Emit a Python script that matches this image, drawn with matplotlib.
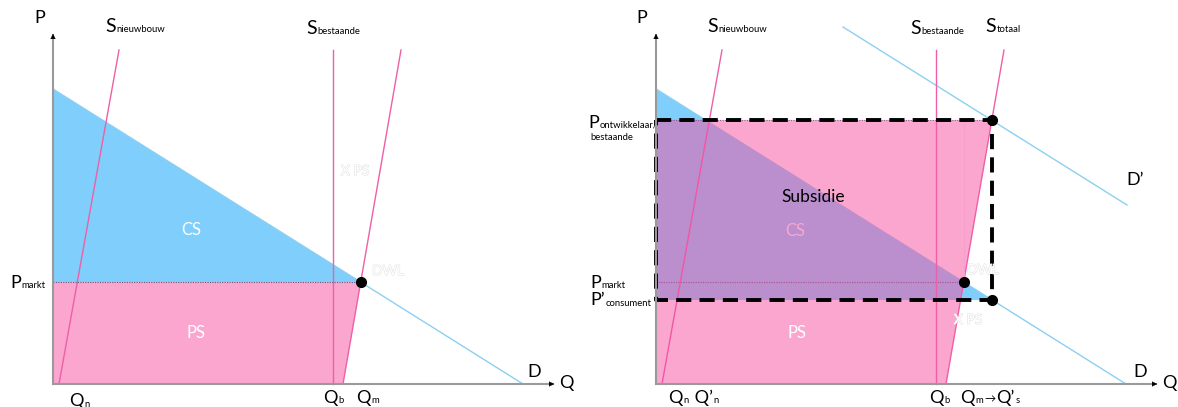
import matplotlib.pyplot as plt
import matplotlib.patheffects as pe
from matplotlib.transforms import offset_copy
import numpy as np

plt.rcParams['font.family'] = ['Lato', 'DejaVu Sans']

# curves, as (Q, P) end points
q_demand = [0.0, 47.0]
p_demand = [29.5, 0.0]
q_demand_new = [18.7, 47.1]
p_demand_new = [35.7, 17.9]
q_nieuwbouw = [0.6, 6.6]
p_nieuwbouw = [0.0, 33.4]
q_bestaande = [28.0, 28.0]
p_bestaande = [0.0, 33.4]
q_totaal = [29.0, 34.8]
p_totaal = [0.0, 33.4]

PINK = '#ee5fa7'
PINK_FILL = (247/255, 79/255, 161/255, 0.5)
BLUE_FILL = '#7fcefb'
BLUE_LINE = '#8dcff2'
AXIS = '#9a9a9a'
SUB = 6.8


def intersect(qa, pa, qb, pb):
    # crossing point of two straight lines given by their end points
    A = np.array([[pa[1] - pa[0], -(qa[1] - qa[0])],
                  [pb[1] - pb[0], -(qb[1] - qb[0])]], dtype=float)
    c = np.array([(pa[1] - pa[0]) * qa[0] - (qa[1] - qa[0]) * pa[0],
                  (pb[1] - pb[0]) * qb[0] - (qb[1] - qb[0]) * pb[0]])
    q, p = np.linalg.solve(A, c)
    return q, p


def q_at(qs, ps, p):
    return np.interp(p, ps, qs)


def p_at(qs, ps, q):
    return np.interp(q, qs, ps)


q_m, p_m = intersect(q_demand, p_demand, q_totaal, p_totaal)
q_s, p_ontw = intersect(q_demand_new, p_demand_new, q_totaal, p_totaal)
p_cons = p_at(q_demand, p_demand, q_s)
q_tot0 = q_at(q_totaal, p_totaal, 0.0)

fig = plt.figure(figsize=(11.78, 4.07), dpi=100)
ax1 = fig.add_axes([0, 0, 589 / 1178, 1])
ax2 = fig.add_axes([589 / 1178, 0, 589 / 1178, 1])
ax1.set_xlim(-5.3, 53.6)
ax2.set_xlim(-6.7, 52.2)
for ax in (ax1, ax2):
    ax.set_ylim(-2.3, 38.4)
    ax.axis('off')

renderer = fig.canvas.get_renderer()


def label(ax, x, y, parts, color='black'):
    # text made of pieces of different size on one baseline
    dx = 0.0
    for s, size, dy in parts:
        tr = offset_copy(ax.transData, fig=fig, x=dx, y=dy, units='dots')
        t = ax.text(x, y, s, fontsize=size, color=color, transform=tr,
                    ha='left', va='baseline', clip_on=False)
        dx += t.get_window_extent(renderer).width + 1


def axes_arrows(ax, qmax, pmax):
    ax.plot([0, 0], [0, pmax], color=AXIS, lw=1.5, zorder=6)
    ax.plot([0, qmax], [0, 0], color=AXIS, lw=1.5, zorder=6)
    ax.annotate('', xy=(0, pmax + 0.4), xytext=(0, pmax - 0.6),
                arrowprops=dict(arrowstyle='-|>', color='black', lw=0.1, mutation_scale=9), zorder=7)
    ax.annotate('', xy=(qmax + 0.4, 0), xytext=(qmax - 0.6, 0),
                arrowprops=dict(arrowstyle='-|>', color='black', lw=0.1, mutation_scale=9), zorder=7)


faint = dict(color='white', fontsize=10,
             path_effects=[pe.withStroke(linewidth=0.8, foreground='#e2e2e2')])

# ---------- left: market without subsidy ----------
ax = ax1
ax.fill([0, 0, q_m], [p_demand[0], p_m, p_m], color=BLUE_FILL, lw=0, zorder=1)
ax.fill([0, 0, q_m, q_tot0], [0, p_m, p_m, 0], color=PINK_FILL, lw=0, zorder=2)
ax.plot(q_demand, p_demand, color=BLUE_LINE, lw=1, zorder=3)
ax.plot(q_nieuwbouw, p_nieuwbouw, color=PINK, lw=1, zorder=3)
ax.plot(q_bestaande, p_bestaande, color=PINK, lw=1, zorder=3)
ax.plot(q_totaal, p_totaal, color=PINK, lw=1, zorder=3)
ax.plot([0, q_m], [p_m, p_m], color='#5a5a78', lw=0.8, ls=(0, (1, 1.2)), zorder=4)
ax.plot([q_m], [p_m], 'o', color='black', ms=7, zorder=8)
axes_arrows(ax, 50.0, 34.9)

ax.text(-1.3, 36.6, 'P', fontsize=13, ha='center', va='center')
ax.text(51.3, 0.1, 'Q', fontsize=13, ha='center', va='center')
ax.text(47.4, 1.2, 'D', fontsize=13, ha='left', va='center')
label(ax, 5.2, 35.2, [('S', 14, 0), ('nieuwbouw', SUB, 0)])
label(ax, 25.3, 35.0, [('S', 14, 0), ('bestaande', SUB, 0)])
label(ax, -4.3, 9.6, [('P', 13, 0), ('markt', SUB, 0)])
label(ax, 1.6, -2.2, [('Q', 13, 0), ('n', SUB, -1)])
label(ax, 27.0, -1.9, [('Q', 13, 0), ('b', SUB, 0)])
label(ax, 30.3, -1.9, [('Q', 13, 0), ('m', SUB, 0)])
ax.text(13.8, 15.4, 'CS', fontsize=12, color='white', ha='center', va='center', zorder=9)
ax.text(14.3, 5.1, 'PS', fontsize=12, color='white', ha='center', va='center', zorder=9)
ax.text(30.2, 21.3, 'X PS', ha='center', va='center', zorder=9, **faint)
ax.text(31.9, 11.3, 'DWL', ha='left', va='center', zorder=9, **faint)

# ---------- right: market with subsidy ----------
ax = ax2
ax.fill([0, 0, q_s], [p_demand[0], p_cons, p_cons], color=BLUE_FILL, lw=0, zorder=1)
ax.plot([0, q_m], [p_m, p_m], color='#5a5a78', lw=0.8, ls=(0, (1, 1.2)), zorder=1.5)
ax.plot([0, q_s], [p_ontw, p_ontw], color='#5a5a78', lw=0.8, ls=(0, (1, 1.2)), zorder=1.5)
ax.plot(q_demand, p_demand, color=BLUE_LINE, lw=1, zorder=1.6)
ax.plot(q_nieuwbouw, p_nieuwbouw, color=PINK, lw=1, zorder=1.6)
ax.text(13.9, 15.3, 'CS', fontsize=12, color='white', ha='center', va='center', zorder=1.7)
q_top = q_at(q_totaal, p_totaal, p_ontw)
ax.fill([0, 0, q_top, q_tot0], [0, p_ontw, p_ontw, 0], color=PINK_FILL, lw=0, zorder=2)
ax.plot(q_demand_new, p_demand_new, color=BLUE_LINE, lw=1, zorder=3)
ax.plot(q_bestaande, p_bestaande, color=PINK, lw=1, zorder=3)
ax.plot(q_totaal, p_totaal, color=PINK, lw=1, zorder=3)
ax.plot([q_m, q_m], [p_m, p_ontw], color='#f7a0cb', lw=0.8, zorder=3)
ax.plot([0, q_s, q_s, 0, 0], [p_ontw, p_ontw, p_cons, p_cons, p_ontw],
        color='black', lw=2.8, ls=(0, (3.9, 2.1)), zorder=5)
ax.plot([q_s, q_m, q_s], [p_ontw, p_m, p_cons], 'o', color='black', ms=7, zorder=8)
axes_arrows(ax, 50.0, 34.9)

ax.text(-1.4, 36.6, 'P', fontsize=13, ha='center', va='center')
ax.text(52.1, 0.1, 'Q', fontsize=13, ha='right', va='center', clip_on=False)
ax.text(47.7, 1.2, 'D', fontsize=13, ha='left', va='center')
ax.text(47.0, 20.4, 'D\u2019', fontsize=13, ha='left', va='center')
label(ax, 5.1, 35.2, [('S', 14, 0), ('nieuwbouw', SUB, 0)])
label(ax, 25.4, 35.0, [('S', 14, 0), ('bestaande', SUB, 0)])
label(ax, 32.9, 35.2, [('S', 14, 0), ('totaal', SUB, 0)])
label(ax, -6.8, 25.6, [('P', 13, 0), ('ontwikkelaar/', SUB, 0)])
ax.text(-6.6, 24.4, 'bestaande', fontsize=SUB, ha='left', va='baseline')
label(ax, -6.6, 9.6, [('P', 13, 0), ('markt', SUB, 0)])
label(ax, -6.6, 7.9, [('P\u2019', 13, 0), ('consument', SUB, -1)])
label(ax, 1.2, -1.9, [('Q', 13, 0), ('n', SUB, 0), (' Q\u2019', 13, 0), ('n', SUB, 0)])
label(ax, 27.3, -1.9, [('Q', 13, 0), ('b', SUB, 0)])
label(ax, 30.4, -1.9, [('Q', 13, 0), ('m', SUB, 0), ('\u2192', 8, 1), ('Q\u2019', 13, 0), ('s', SUB, 0)])
ax.text(15.7, 18.7, 'Subsidie', fontsize=12.5, color='black', ha='center', va='center', zorder=9)
ax.text(14.1, 5.1, 'PS', fontsize=12, color='white', ha='center', va='center', zorder=9)
ax.text(31.2, 6.4, 'X PS', ha='center', va='center', zorder=9, **faint)
ax.text(31.1, 11.4, 'DWL', ha='left', va='center', zorder=9, **faint)

fig.savefig('out.png', dpi=100)
